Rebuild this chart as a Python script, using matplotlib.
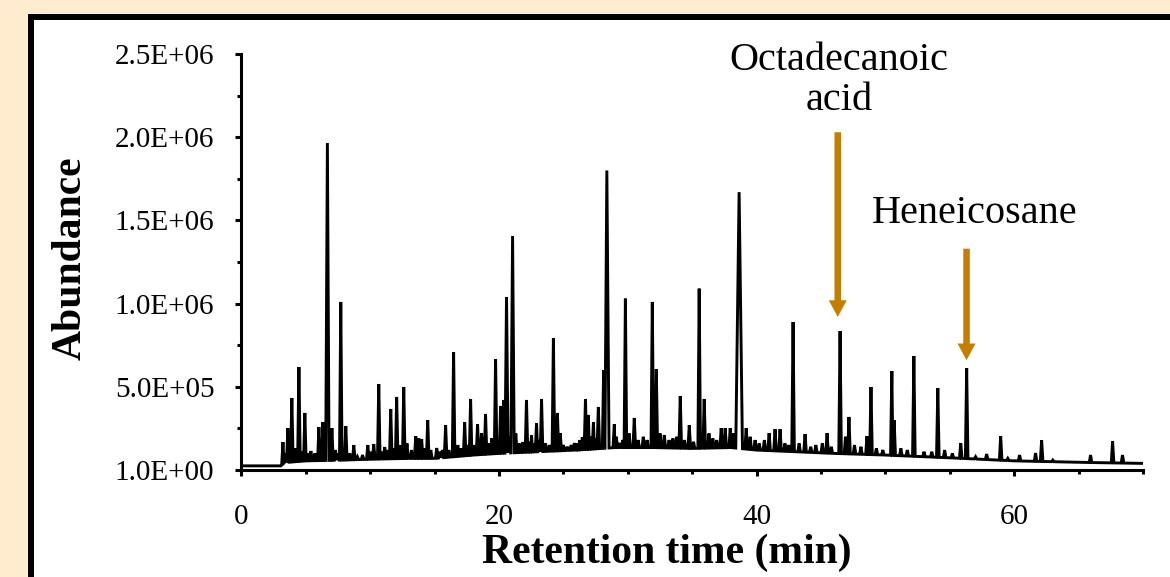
import numpy as np
import matplotlib.pyplot as plt
from matplotlib.patches import Rectangle
from matplotlib.ticker import FixedLocator, FixedFormatter, MultipleLocator

plt.rcParams['font.family'] = ['Liberation Serif', 'DejaVu Serif']

# peaks: retention time (min) and apex abundance
peak_rt = [3.22, 3.60, 3.91, 4.46, 4.92, 5.39, 6.01, 6.32, 6.67, 7.02,
           7.71, 8.10, 8.72, 9.81, 10.27, 10.66, 11.12, 11.59, 12.05, 12.60,
           13.53, 13.76, 13.99, 14.46, 15.16, 15.85, 16.47, 17.33, 17.79, 18.33,
           18.64, 18.95, 19.45, 19.73, 20.12, 20.35, 20.58, 21.05, 21.82, 22.13,
           22.52, 22.91, 23.30, 24.22, 24.53, 24.75, 25.85, 26.47, 26.71, 26.94,
           27.33, 27.71, 28.12, 28.37, 28.95, 29.34, 29.81, 30.50, 31.90, 32.21,
           32.83, 34.07, 34.77, 35.54, 35.93, 37.25, 37.56, 37.95, 38.64, 39.19,
           39.88, 40.97, 41.43, 41.82, 42.83, 43.76, 45.47, 46.48, 47.17, 48.57,
           48.88, 50.50, 50.68, 52.21, 54.07, 55.85, 56.31, 57.86, 58.95, 60.42,
           61.66, 62.13, 65.93, 67.64, 68.41]
peak_top = [1.68e5, 2.52e5, 4.33e5, 6.19e5, 3.43e5, 1.14e5, 2.58e5, 2.88e5, 1.965e6, 2.52e5,
            1.01e6, 2.64e5, 1.50e5, 1.50e5, 1.56e5, 5.17e5, 1.38e5, 3.67e5, 4.39e5, 4.99e5,
            2.04e5, 1.92e5, 1.86e5, 3.00e5, 1.32e5, 2.70e5, 7.09e5, 2.88e5, 4.27e5, 2.76e5,
            2.22e5, 3.37e5, 1.92e5, 6.67e5, 3.85e5, 4.21e5, 1.04e6, 1.406e6, 1.68e5, 4.21e5,
            2.10e5, 2.82e5, 4.27e5, 7.93e5, 3.43e5, 2.22e5, 1.62e5, 1.98e5, 4.27e5, 3.31e5,
            2.88e5, 3.79e5, 6.00e5, 1.80e6, 2.76e5, 1.62e5, 1.03e6, 3.13e5, 1.01e6, 6.07e5,
            2.10e5, 4.45e5, 2.70e5, 1.09e6, 4.27e5, 2.52e5, 2.52e5, 2.52e5, 1.67e6, 2.52e5,
            1.80e5, 2.22e5, 2.46e5, 2.46e5, 8.89e5, 2.16e5, 2.22e5, 8.35e5, 3.19e5, 2.04e5,
            4.99e5, 5.95e5, 3.00e5, 6.85e5, 4.93e5, 1.62e5, 6.13e5, 9.6e4, 2.04e5, 9.0e4,
            1.02e5, 1.80e5, 9.0e4, 1.74e5, 9.0e4]

# the small hash of peaks along the baseline
minor_rt = [3.4, 4.2, 4.7, 5.15, 5.7, 7.3, 7.5, 8.4, 9.0, 9.4, 10.0, 10.9, 11.35, 11.8,
            12.3, 12.85, 13.2, 14.2, 14.7, 15.4, 15.6, 16.1, 16.8, 17.05, 17.55, 18.1,
            19.2, 20.8, 21.3, 21.55, 22.35, 22.7, 23.1, 23.6, 23.9, 25.0, 25.3, 25.6,
            26.1, 26.25, 27.1, 27.5, 29.1, 29.6, 30.1, 30.8, 31.2, 31.5, 32.5, 33.2,
            33.5, 33.8, 34.4, 35.1, 36.3, 36.6, 36.9, 38.2, 39.5, 40.2, 40.6, 42.2,
            42.5, 43.3, 44.2, 44.6, 45.1, 45.8, 46.9, 47.6, 48.1, 49.3, 49.8, 51.2,
            51.7, 53.0, 53.6, 54.6, 55.2, 57.0, 59.5, 63.0]
minor_top = [1.0e5, 1.3e5, 1.1e5, 1.0e5, 1.0e5, 1.2e5, 1.0e5, 1.0e5, 8e4, 9e4, 1.1e5, 1.1e5,
             1.2e5, 1.3e5, 1.5e5, 1.6e5, 1.2e5, 1.3e5, 1.2e5, 1.1e5, 1.2e5, 1.2e5, 1.5e5,
             1.3e5, 1.5e5, 1.5e5, 1.6e5, 2.0e5, 2.2e5, 1.6e5, 1.7e5, 1.6e5, 1.8e5, 1.6e5,
             1.5e5, 1.5e5, 1.4e5, 1.5e5, 1.6e5, 1.8e5, 2.0e5, 1.9e5, 2.0e5, 1.8e5, 2.2e5,
             1.8e5, 2.0e5, 1.8e5, 2.2e5, 1.8e5, 1.9e5, 2.0e5, 1.8e5, 1.7e5, 2.2e5, 1.9e5,
             1.8e5, 2.2e5, 2.0e5, 1.6e5, 1.8e5, 1.6e5, 1.5e5, 1.6e5, 1.4e5, 1.5e5, 1.6e5,
             1.4e5, 2.0e5, 1.5e5, 1.4e5, 1.3e5, 1.2e5, 1.3e5, 1.2e5, 1.1e5, 1.1e5, 1.2e5,
             1.0e5, 8e4, 7e4, 6e4]

# peaks with a wider base (half base width, min); the others use 0.1
broad_peaks = {6.67: 0.13, 20.58: 0.12, 21.05: 0.13, 28.37: 0.17, 38.64: 0.26}

# baseline level between peaks
base_rt = [0, 3.05, 3.35, 5, 8, 10, 13, 15, 18, 20, 23, 26, 29, 32, 35,
           38, 40, 43, 46, 50, 53, 56, 60, 63, 66, 69.9]
base_level = [2.5e4, 2.5e4, 4.5e4, 5.5e4, 6e4, 6.5e4, 7e4, 7e4, 9e4, 1.0e5, 1.1e5, 1.2e5, 1.35e5,
              1.35e5, 1.3e5, 1.35e5, 1.2e5, 1.1e5, 1.0e5, 9e4, 8e4, 7e4, 5.5e4, 5e4, 4.5e4, 4e4]

ytick_vals = [0, 5e5, 1e6, 1.5e6, 2e6, 2.5e6]
ytick_labels = ['1.0E+00', '5.0E+05', '1.0E+06', '1.5E+06', '2.0E+06', '2.5E+06']
xtick_vals = [0, 20, 40, 60]

# labelled compounds: arrow x, arrow tail, arrow tip, label position
labels = ['Octadecanoic\nacid', 'Heneicosane']
arrow_rt = [46.3, 56.3]
arrow_tail = [2.03e6, 1.33e6]
arrow_tip = [9.2e5, 6.6e5]
label_x = [46.4, 56.9]
label_y = [2.34e6, 1.54e6]

arrow_color = '#C47F00'

# build the trace: baseline plus a narrow triangle for every peak
pts = []
all_rt = list(peak_rt) + list(minor_rt)
all_top = list(peak_top) + list(minor_top)
rt_arr = np.array(all_rt)
for t, top in zip(all_rt, all_top):
    w = broad_peaks.get(t, 0.1)
    for tt in (t - w, t + w):
        pts.append((tt, float(np.interp(tt, base_rt, base_level))))
    pts.append((t, top))
for t, b in zip(base_rt, base_level):
    if np.min(np.abs(rt_arr - t)) > 0.15:
        pts.append((t, b))
pts.sort()
trace_t = [p[0] for p in pts]
trace_y = [p[1] for p in pts]

fig = plt.figure(figsize=(11.7, 5.77), dpi=100)
fig.patch.set_facecolor('#FFEBCD')
fig.add_artist(Rectangle((30.5 / 1170, -0.2), 1.2, 1.2 - 17 / 577,
                         transform=fig.transFigure, facecolor='white',
                         edgecolor='black', linewidth=4.3, zorder=0))

ax = fig.add_axes([0.2064, 0.1854, 0.7705, 0.7210])
ax.patch.set_visible(False)
ax.plot(trace_t, trace_y, color='black', lw=2.1, solid_joinstyle='miter')

ax.set_xlim(0, 70)
ax.set_ylim(0, 2.5e6)
for s in ['top', 'right']:
    ax.spines[s].set_visible(False)
for s in ['left', 'bottom']:
    ax.spines[s].set_linewidth(2.2)

ax.yaxis.set_major_locator(FixedLocator(ytick_vals))
ax.yaxis.set_major_formatter(FixedFormatter(ytick_labels))
ax.yaxis.set_minor_locator(MultipleLocator(2.5e5))
ax.xaxis.set_major_locator(FixedLocator(xtick_vals))
ax.xaxis.set_minor_locator(MultipleLocator(5))
ax.tick_params(which='major', direction='out', length=4.5, width=2.2, labelsize=21)
ax.tick_params(which='minor', direction='out', length=3, width=2.2)
ax.tick_params(axis='y', which='major', pad=15)
ax.tick_params(axis='x', which='major', pad=20)

ax.set_xlabel('Retention time (min)', fontsize=30, fontweight='bold')
ax.xaxis.set_label_coords(0.472, -0.20)
ax.xaxis.label.set_va('center')
ax.set_ylabel('Abundance', fontsize=30, fontweight='bold')
ax.yaxis.set_label_coords(-0.19, 0.51)
ax.yaxis.label.set_va('center')

for txt, x0, y0, x, yt, yh in zip(labels, label_x, label_y, arrow_rt, arrow_tail, arrow_tip):
    ax.text(x0, y0, txt, ha='center', va='center', fontsize=29, linespacing=1.1, clip_on=False)
    ax.annotate('', xy=(x, yh), xytext=(x, yt),
                arrowprops=dict(arrowstyle='simple,head_length=1.2,head_width=1.3,tail_width=0.47',
                                mutation_scale=10, color=arrow_color, lw=0,
                                shrinkA=0, shrinkB=0))

fig.savefig('out.png', dpi=100, facecolor=fig.get_facecolor())
